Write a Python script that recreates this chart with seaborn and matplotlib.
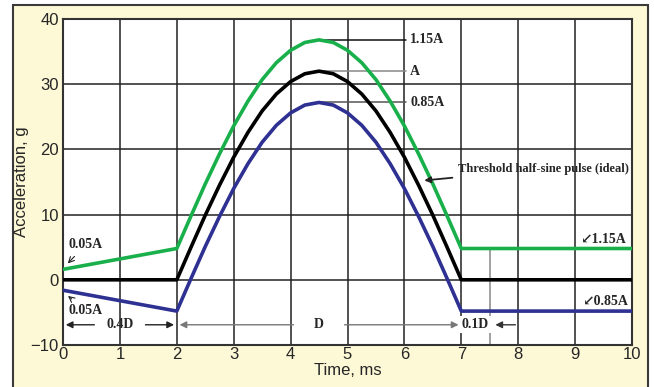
import matplotlib
matplotlib.use("Agg")
import matplotlib.pyplot as plt
import seaborn as sns
import pandas as pd
from matplotlib.patches import Rectangle

# values
pulse_t = [0, 2, 2.25, 2.5, 2.75, 3, 3.25, 3.5, 3.75, 4, 4.25, 4.5, 4.75, 5,
           5.25, 5.5, 5.75, 6, 6.25, 6.5, 6.75, 7, 10]
ideal = [0, 0, 5.0, 9.9, 14.5, 18.8, 22.6, 25.9, 28.5, 30.4, 31.6, 32.0, 31.6, 30.4,
         28.5, 25.9, 22.6, 18.8, 14.5, 9.9, 5.0, 0, 0]
upper = [1.6, 4.8, 9.8, 14.7, 19.3, 23.6, 27.4, 30.7, 33.3, 35.2, 36.4, 36.8, 36.4, 35.2,
         33.3, 30.7, 27.4, 23.6, 19.3, 14.7, 9.8, 4.8, 4.8]
lower = [-1.6, -4.8, 0.2, 5.1, 9.7, 14.0, 17.8, 21.1, 23.7, 25.6, 26.8, 27.2, 26.8, 25.6,
         23.7, 21.1, 17.8, 14.0, 9.7, 5.1, 0.2, -4.8, -4.8]
x_ticks = [0, 1, 2, 3, 4, 5, 6, 7, 8, 9, 10]
y_ticks = [-10, 0, 10, 20, 30, 40]

df = pd.DataFrame({"t": pulse_t * 3,
                   "acc": upper + ideal + lower,
                   "curve": ["1.15A"] * len(pulse_t) + ["A"] * len(pulse_t) + ["0.85A"] * len(pulse_t)})

sns.set_style("white")
plt.rcParams["font.family"] = ["Liberation Sans", "DejaVu Sans"]

fig = plt.figure(figsize=(6.54, 3.87), dpi=100)
fig.patch.set_facecolor("white")
frame = Rectangle((13 / 654, -0.01), 635 / 654, 382 / 387 + 0.01,
                  transform=fig.transFigure, facecolor="#fdf8d6",
                  edgecolor="#3a3a3a", linewidth=1.5, zorder=-5)
fig.patches.append(frame)
ax = fig.add_axes([63 / 654, 42 / 387, 569 / 654, 326 / 387])
ax.set_zorder(2)
ax.set_facecolor("white")

for v in x_ticks[1:-1]:
    ax.axvline(v, color="#222222", lw=1.1, zorder=1)
for v in y_ticks[1:-1]:
    ax.axhline(v, color="#222222", lw=1.1, zorder=1)
ax.plot([7.5, 7.5], [-10, 4.8], color="#888888", lw=1.1, zorder=1)

sns.lineplot(data=df, x="t", y="acc", hue="curve", sort=False, estimator=None,
             palette={"1.15A": "#19b04b", "A": "#000000", "0.85A": "#2e3192"},
             linewidth=2.6, legend=False, ax=ax, zorder=3)

ax.set_xlim(0, 10)
ax.set_ylim(-10, 40)
ax.set_xticks(x_ticks)
ax.set_yticks(y_ticks)
ax.tick_params(length=0, labelsize=12)
ax.tick_params(axis="x", pad=1.5)
ax.tick_params(axis="y", pad=3)
ax.set_xlabel("Time, ms", fontsize=12, labelpad=1)
ax.set_ylabel("Acceleration, g", fontsize=12, labelpad=1)
for s in ax.spines.values():
    s.set_color("#333333")
    s.set_linewidth(1.5)

serif = dict(family=["Liberation Serif", "DejaVu Serif"], weight="bold", fontsize=10)
box = dict(facecolor="white", edgecolor="none", pad=1.5)

# peak leader lines
ax.plot([4.5, 6.02], [36.8, 36.8], color="#111111", lw=1.1, zorder=2)
ax.plot([4.5, 6.02], [32.0, 32.0], color="#888888", lw=1.1, zorder=2)
ax.plot([4.5, 6.02], [27.2, 27.2], color="#555555", lw=1.1, zorder=2)
ax.text(6.1, 36.8, "1.15A", va="center", ha="left", bbox=box, zorder=4, **serif)
ax.text(6.1, 32.0, "A", va="center", ha="left", bbox=box, zorder=4, **serif)
ax.text(6.1, 27.2, "0.85A", va="center", ha="left", bbox=box, zorder=4, **serif)

ax.annotate("Threshold half-sine pulse (ideal)", xy=(6.3, 15.2), xytext=(6.95, 17.0),
            va="center", ha="left", zorder=4, family=["Liberation Serif", "DejaVu Serif"],
            weight="bold", fontsize=9,
            arrowprops=dict(arrowstyle="-|>", color="#222222", lw=1.3))

ax.annotate("0.05A", xy=(0.05, 2.2), xytext=(0.1, 5.4), va="center", ha="left",
            arrowprops=dict(arrowstyle="->", color="#222222", lw=0.8), **serif)
ax.annotate("0.05A", xy=(0.05, -2.2), xytext=(0.1, -4.7), va="center", ha="left",
            arrowprops=dict(arrowstyle="->", color="#222222", lw=0.8), **serif)
ax.text(9.9, 6.2, "\u21991.15A", va="center", ha="right", **serif)
ax.text(9.95, -3.4, "\u21990.85A", va="center", ha="right", **serif)

# duration arrows
ax.annotate("", xy=(0.0, -6.9), xytext=(0.6, -6.9),
            arrowprops=dict(arrowstyle="-|>", color="#222222", lw=1.0))
ax.annotate("", xy=(2.0, -6.9), xytext=(1.4, -6.9),
            arrowprops=dict(arrowstyle="-|>", color="#222222", lw=1.0))
ax.text(1.0, -6.9, "0.4D", va="center", ha="center", **serif)
ax.annotate("", xy=(2.0, -6.9), xytext=(4.1, -6.9),
            arrowprops=dict(arrowstyle="-|>", color="#777777", lw=1.0))
ax.annotate("", xy=(7.0, -6.9), xytext=(4.9, -6.9),
            arrowprops=dict(arrowstyle="-|>", color="#777777", lw=1.0))
ax.text(4.5, -6.9, "D", va="center", ha="center", **serif)
ax.text(7.25, -6.9, "0.1D", va="center", ha="center", bbox=box, zorder=4, **serif)
ax.annotate("", xy=(7.55, -6.9), xytext=(8.0, -6.9),
            arrowprops=dict(arrowstyle="-|>", color="#333333", lw=1.0))

fig.savefig("out.png", dpi=100)
